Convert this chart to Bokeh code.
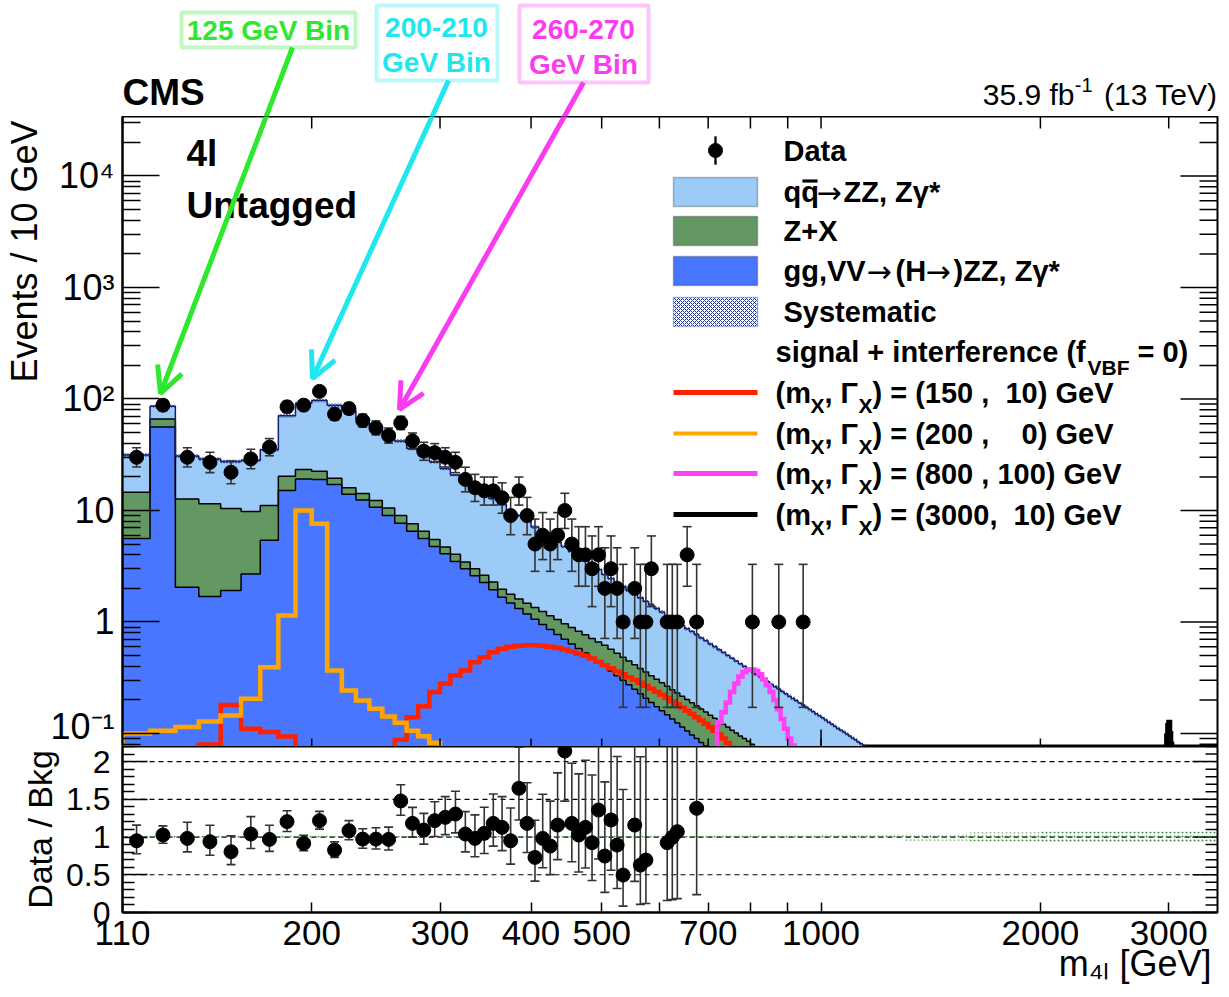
import math
from bokeh.plotting import figure
from bokeh.layouts import column
from bokeh.models import (Range1d, FixedTicker, CustomJSTickFormatter,
                          Label, BoxAnnotation, Arrow, OpenHead, Span)
from bokeh.embed import file_html
from bokeh.resources import INLINE

# ------------------------------------------------------------------ data
BIN_W = 10
bin_low = list(range(110, 1160, 10))          # lower edges of the 10 GeV bins (110 ... 1150)

# cumulative stack tops
stack_total = [31.5, 86, 30.8, 29, 27.5, 28, 35, 70.6, 91, 97,
               88, 78, 67, 57, 49, 42, 36, 31.5, 27.3, 23.8,
               20.8, 18.4, 16.3, 14.4, 12.8, 11.3, 9.9, 9.0, 8.1, 7.1,
               6.35, 5.75, 5.2, 4.75, 4.3, 3.92, 3.57, 3.25, 2.95, 2.67,
               2.45, 2.26, 2.08, 1.92, 1.78, 1.65, 1.53, 1.42, 1.32, 1.23,
               1.14, 1.07, 1.0, 0.93, 0.87, 0.82, 0.77, 0.72, 0.68, 0.635,
               0.6, 0.563, 0.531, 0.501, 0.473, 0.447, 0.423, 0.4, 0.379, 0.359,
               0.34, 0.323, 0.307, 0.291, 0.277, 0.263, 0.25, 0.238, 0.227, 0.216,
               0.206, 0.197, 0.188, 0.18, 0.172, 0.164, 0.157, 0.15, 0.144, 0.138,
               0.132, 0.126, 0.121, 0.116, 0.111, 0.107, 0.103, 0.099, 0.095, 0.091,
               0.088, 0.084, 0.081, 0.078, 0.075]
stack_zx_gg = [14.6, 66, 12.7, 11.5, 10.4, 9.8, 11.1, 20.3, 23.3, 22.5,
               19.5, 16.0, 14.2, 12.3, 10.5, 9.0, 7.6, 6.5, 5.5, 4.7,
               4.05, 3.45, 3.0, 2.63, 2.28, 1.97, 1.77, 1.61, 1.47, 1.35,
               1.24, 1.14, 1.05, 0.966, 0.893, 0.827, 0.767, 0.712, 0.662, 0.617,
               0.568, 0.523, 0.483, 0.446, 0.413, 0.383, 0.355, 0.329, 0.306, 0.285,
               0.265, 0.247, 0.231, 0.216, 0.202, 0.189, 0.177, 0.166, 0.156, 0.146,
               0.137, 0.129, 0.121, 0.114, 0.107, 0.101, 0.095, 0.09, 0.085, 0.08,
               0.076, 0.072, 0.068, 0.064, 0.061, 0.058, 0.055, 0.052, 0.049, 0.047,
               0.044, 0.042, 0.04, 0.038, 0.036, 0.034, 0.033, 0.031, 0.03, 0.028,
               0.027, 0.026, 0.024, 0.023, 0.022, 0.021, 0.02, 0.019, 0.018, 0.017,
               0.016, 0.016, 0.015, 0.014, 0.014]
stack_gg = [5.6, 56, 2.05, 1.69, 1.92, 2.7, 5.4, 15.1, 19.2, 19.0,
            17.1, 14.0, 12.4, 10.7, 9.0, 7.7, 6.5, 5.6, 4.75, 4.1,
            3.48, 3.0, 2.6, 2.26, 1.95, 1.67, 1.48, 1.32, 1.18, 1.057,
            0.95, 0.855, 0.772, 0.699, 0.634, 0.577, 0.526, 0.48, 0.439, 0.402,
            0.364, 0.33, 0.3, 0.273, 0.249, 0.227, 0.207, 0.19, 0.174, 0.16,
            0.147, 0.135, 0.124, 0.114, 0.105, 0.097, 0.09, 0.083, 0.077, 0.0715,
            0.066, 0.061, 0.056, 0.052, 0.048, 0.044, 0.041, 0.038, 0.035, 0.032,
            0.03, 0.028, 0.026, 0.024, 0.022, 0.02, 0.019, 0.018, 0.016, 0.015,
            0.014, 0.013, 0.012, 0.011, 0.011, 0.01, 0.0095, 0.009, 0.0085, 0.008,
            0.0075, 0.007, 0.0066, 0.0062, 0.0058, 0.0055, 0.0052, 0.0049, 0.0046, 0.0044,
            0.0042, 0.004, 0.0038, 0.0036, 0.0034]

# signal + interference curves (0 = not positive)
sig150_low = list(range(140, 760, 10))
sig150 = [0.0797, 0.18, 0.11, 0.103, 0.094, 0, 0, 0, 0, 0, 0, 0,
          0.088, 0.14, 0.175, 0.235, 0.279, 0.331, 0.367, 0.436, 0.483, 0.535,
          0.574, 0.6, 0.612, 0.618, 0.618, 0.612, 0.6, 0.585, 0.565, 0.543,
          0.52, 0.497, 0.47, 0.44, 0.41, 0.385, 0.36, 0.34, 0.32, 0.302,
          0.285, 0.268, 0.252, 0.237, 0.222, 0.208, 0.195, 0.183, 0.171, 0.16,
          0.15, 0.14, 0.131, 0.122, 0.114, 0.106, 0.098, 0.09, 0.082, 0.074]
sig200_low = list(range(110, 320, 10))
sig200 = [0.1, 0.106, 0.114, 0.128, 0.145, 0.205, 0.393, 1.144, 10.0, 7.6,
          0.368, 0.243, 0.198, 0.167, 0.142, 0.125, 0.106, 0.0946, 0.0825, 0.07, 0.06]
sig800_low = list(range(720, 930, 10))
sig800 = [0.126, 0.155, 0.19, 0.235, 0.28, 0.325, 0.355, 0.372, 0.375, 0.365,
          0.34, 0.305, 0.27, 0.235, 0.2, 0.165, 0.135, 0.11, 0.09, 0.078, 0.06]
sig3000_low = list(range(2960, 3040, 10))
sig3000 = [0.06, 0.075, 0.095, 0.118, 0.126, 0.1, 0.08, 0.06]

# observed events (bin centres)
data_mass = [115, 125, 135, 145, 155, 165, 175, 185, 195, 205,
             215, 225, 235, 245, 255, 265, 275, 285, 295, 305,
             315, 325, 335, 345, 355, 365, 375, 385, 395, 405,
             415, 425, 435, 445, 455, 465, 475, 485, 495, 505,
             515, 525, 535, 555, 565, 575, 585, 615, 625, 635,
             655, 675, 805, 875, 945]
data_count = [30, 88, 30, 27, 22, 29, 37, 85, 88, 117,
              73, 82, 64, 55, 47, 61, 42, 34, 33, 30,
              27, 19, 16, 15, 15, 13, 9, 15, 9, 5,
              6, 5, 6, 10, 5, 4, 4, 3, 4, 2,
              3, 2, 1, 2, 1, 1, 3, 1, 1, 1,
              4, 1, 1, 1, 1]

# Data / Bkg values visible in the lower panel
ratio_mass = [115, 125, 135, 145, 155, 165, 175, 185, 195, 205,
              215, 225, 235, 245, 255, 265, 275, 285, 295, 305,
              315, 325, 335, 345, 355, 365, 375, 385, 395, 405,
              415, 425, 435, 445, 455, 465, 475, 485, 495, 505,
              515, 525, 535, 555, 565, 575, 615, 625, 635, 675]
ratio_value = [0.951, 1.027, 0.982, 0.938, 0.805, 1.04, 0.969, 1.204, 0.916, 1.217,
               0.827, 1.084, 0.973, 0.973, 0.969, 1.478, 1.181, 1.093, 1.217, 1.261,
               1.305, 1.04, 0.982, 1.049, 1.181, 1.128, 0.951, 1.646, 1.181, 0.730,
               0.982, 0.881, 1.159, 2.14, 1.181, 1.027, 1.128, 0.925, 1.358, 0.748,
               1.226, 0.894, 0.496, 1.159, 0.628, 0.695, 0.925, 0.996, 1.071, 1.381]
ratio_sys_edges = [110, 700, 1000, 1300, 1600, 2000, 3500]
ratio_sys_half = [0.015, 0.02, 0.03, 0.045, 0.06, 0.075]

x_tick_values = [110, 200, 300, 400, 500, 700, 1000, 2000, 3000]
x_minor_values = [600, 800, 900]
y_major = [0.1, 1, 10, 100, 1000, 10000]
r_major = [0, 0.5, 1, 1.5, 2]

# ------------------------------------------------------------------ geometry / style
XMIN, XMAX = 110, 3500
YMIN, YMAX = 0.0764, 34170
RMIN, RMAX = 0.0, 2.2
FL, FW, FR = 122, 1095, 10  # frame left / width / right border in page px
MT, MH = 116, 630           # main frame top / height
RT, RH = 746, 166           # ratio frame top / height
FONT = "Liberation Sans"
C_QQ, C_ZX, C_GG = "#9ccbf8", "#639863", "#4876ff"
C_RED, C_ORA, C_MAG = "#ff2000", "#ffa500", "#ff40f5"
C_GRN_A, C_CYA_A, C_MAG_A = "#2ee82e", "#1ee8ee", "#fa3cf0"
FLOOR = 1e-4
NBSP = "\u00a0"


def px2x(px):
    return 10 ** (math.log10(XMIN) + (px - FL) / FW * math.log10(XMAX / XMIN))


def py2y(py):
    return 10 ** (math.log10(YMIN) + (MT + MH - py) / MH * math.log10(YMAX / YMIN))


def ident(v):
    return v


def garwood(n):
    lo = 0.0
    if n > 0:
        k = 2 * n
        lo = 0.5 * k * (1 - 2 / (9 * k) - math.sqrt(2 / (9 * k))) ** 3
    k = 2 * n + 2
    hi = 0.5 * k * (1 - 2 / (9 * k) + math.sqrt(2 / (9 * k))) ** 3
    return lo, hi


def hist_line(lows, vals):
    xs = [lows[0]] + list(lows) + [lows[-1] + BIN_W]
    ys = [FLOOR] + [v if v > 0 else FLOOR for v in vals] + [FLOOR]
    return xs, ys


def area_xy(lows, vals):
    return list(lows) + [lows[-1] + BIN_W], list(vals) + [vals[-1]]


def add_text(fig, xc, yc, px, py, text, size, color="black", bold=True, align="left", font=FONT):
    fig.add_layout(Label(x=xc(px), y=yc(py), text=text, text_font=font,
                         text_font_size=f"{size}px",
                         text_font_style="bold" if bold else "normal",
                         text_color=color, text_align=align, text_baseline="middle"))


def add_box(fig, xc, yc, l, r, t, b, **kw):
    fig.add_layout(BoxAnnotation(left=xc(l), right=xc(r), top=yc(t), bottom=yc(b), **kw))


def style_axis(ax, tick_in, minor_in, font_size, standoff):
    ax.major_tick_in = tick_in
    ax.major_tick_out = 0
    ax.minor_tick_in = minor_in
    ax.minor_tick_out = 0
    ax.major_tick_line_width = 1.5
    ax.minor_tick_line_width = 1.5
    ax.axis_line_width = 2
    ax.major_label_text_font = FONT
    ax.major_label_text_font_size = font_size
    ax.major_label_standoff = standoff
    ax.major_label_text_color = "black"


def set_title(ax, text, size, standoff, lead):
    # ROOT puts the title at the end of the axis: leading spaces push the centred title there
    ax.axis_label = NBSP * lead + text
    ax.axis_label_text_font = FONT
    ax.axis_label_text_font_size = f"{size}px"
    ax.axis_label_text_font_style = "normal"
    ax.axis_label_text_color = "black"
    ax.axis_label_standoff = standoff


def edge_ticks(fig, xs, ys, length, vertical):
    # inward tick marks on a frame edge: a dash centred on the edge, the outer half is clipped
    fig.scatter(x=xs, y=ys, marker="dash", size=2 * length, angle=math.pi / 2 if vertical else 0.0,
                line_color="black", line_width=1.5)


ARROWS = [((292, 47, 160, 393), C_GRN_A), ((448, 80, 312, 378), C_CYA_A), ((583, 82, 399, 409), C_MAG_A)]

# ------------------------------------------------------------------ header strip (above the frame)
h = figure(x_range=Range1d(FL, FL + FW), y_range=Range1d(MT, 0), frame_width=FW, frame_height=MT,
           min_border_left=FL, min_border_right=FR, min_border_top=0, min_border_bottom=0,
           toolbar_location=None, output_backend="svg", title=None)
h.axis.visible = False
h.grid.visible = False
h.outline_line_color = None
add_text(h, ident, ident, 122, 92, "CMS", 37)
add_text(h, ident, ident, 1217, 94, "(13 TeV)", 30, bold=False, align="right")
add_text(h, ident, ident, 1092, 84, "-1", 20, bold=False, align="right")
add_text(h, ident, ident, 1074, 94, "35.9 fb", 30, bold=False, align="right")
add_box(h, ident, ident, 181, 355, 12, 47, fill_alpha=0, line_color=C_GRN_A, line_width=4)
add_text(h, ident, ident, 268, 30, "125 GeV Bin", 28, color=C_GRN_A, align="center")
add_box(h, ident, ident, 376, 497, 5, 80, fill_alpha=0, line_color=C_CYA_A, line_width=4)
add_text(h, ident, ident, 436, 27, "200-210", 28, color=C_CYA_A, align="center")
add_text(h, ident, ident, 436, 62, "GeV Bin", 28, color=C_CYA_A, align="center")
add_box(h, ident, ident, 519, 648, 5, 82, fill_alpha=0, line_color=C_MAG_A, line_width=4)
add_text(h, ident, ident, 583, 29, "260-270", 28, color=C_MAG_A, align="center")
add_text(h, ident, ident, 583, 64, "GeV Bin", 28, color=C_MAG_A, align="center")
for (x0, y0, x1, y1), col in ARROWS:
    h.add_layout(Arrow(end=None, x_start=x0, y_start=y0, x_end=x1, y_end=y1,
                       line_color=col, line_width=5))

# ------------------------------------------------------------------ main panel
p = figure(x_axis_type="log", y_axis_type="log",
           x_range=Range1d(XMIN, XMAX), y_range=Range1d(YMIN, YMAX),
           frame_width=FW, frame_height=MH,
           min_border_left=FL, min_border_right=FR, min_border_top=0, min_border_bottom=0,
           toolbar_location=None, output_backend="svg", title=None)
p.xgrid.visible = False
p.ygrid.visible = False
p.xaxis.visible = False
p.outline_line_color = "black"
p.outline_line_width = 2

y_minor = [m * 10 ** e for e in range(-2, 5) for m in range(2, 10) if YMIN <= m * 10 ** e <= YMAX]
p.yaxis.ticker = FixedTicker(ticks=y_major, minor_ticks=y_minor)
style_axis(p.yaxis[0], 37, 18, "36px", 8)
p.yaxis.formatter = CustomJSTickFormatter(code="""
const e = Math.round(Math.log10(tick));
const m = {"-1": "10\u207b\u00b9", "0": "1", "1": "10", "2": "10\u00b2", "3": "10\u00b3", "4": "10\u2074"};
return m[String(e)] || "";
""")
set_title(p.yaxis[0], "Events / 10 GeV", 36, 2, 36)

# stacked histograms
ex, y_tot = area_xy(bin_low, stack_total)
_, y_zx = area_xy(bin_low, stack_zx_gg)
_, y_gg = area_xy(bin_low, stack_gg)
p.varea_step(x=ex, y1=y_zx, y2=y_tot, step_mode="after", fill_color=C_QQ)
p.varea_step(x=ex, y1=y_gg, y2=y_zx, step_mode="after", fill_color=C_ZX)
p.varea_step(x=ex, y1=[FLOOR] * len(ex), y2=y_gg, step_mode="after", fill_color=C_GG)
p.varea_step(x=ex, y1=[v * 0.965 for v in y_tot], y2=[v * 1.035 for v in y_tot], step_mode="after",
             fill_alpha=0, hatch_pattern="x", hatch_color="#1b2f9a", hatch_scale=3, hatch_weight=0.7)
for vals, col, w in ((stack_gg, "black", 1.5), (stack_zx_gg, "black", 1.5), (stack_total, "#141e6e", 1.5)):
    hx, hy = hist_line(bin_low, vals)
    p.step(hx, hy, mode="after", line_color=col, line_width=w)

# signal curves
for lows, vals, col, w in ((sig150_low, sig150, C_RED, 4.5), (sig200_low, sig200, C_ORA, 4.5),
                           (sig800_low, sig800, C_MAG, 4.5), (sig3000_low, sig3000, "black", 5)):
    hx, hy = hist_line(lows, vals)
    p.step(hx, hy, mode="after", line_color=col, line_width=w, line_join="miter")

# data
err = [garwood(n) for n in data_count]
d_lo = [e[0] for e in err]
d_hi = [e[1] for e in err]
p.segment(x0=data_mass, y0=d_lo, x1=data_mass, y1=d_hi, line_color="#333333", line_width=1.6)
p.scatter(x=data_mass + data_mass, y=d_lo + d_hi, marker="dash", size=9, line_color="#333333", line_width=1.6)
p.scatter(x=data_mass, y=data_count, size=14, fill_color="black", line_color="black")

# inward ticks on the other frame edges
x_all = x_tick_values + x_minor_values
edge_ticks(p, x_all, [YMAX] * len(x_all), 12, True)
edge_ticks(p, x_all, [YMIN] * len(x_all), 8, True)
edge_ticks(p, [1000], [YMIN], 17, True)
edge_ticks(p, [XMAX] * len(y_major), y_major, 37, False)
edge_ticks(p, [XMAX] * len(y_minor), y_minor, 18, False)

# texts / arrows inside the frame
add_text(p, px2x, py2y, 186, 153, "4l", 37)
add_text(p, px2x, py2y, 186, 205, "Untagged", 37)
for (x0, y0, x1, y1), col in ARROWS:
    p.add_layout(Arrow(end=OpenHead(size=26, line_width=5, line_color=col),
                       x_start=px2x(x0), y_start=py2y(y0), x_end=px2x(x1), y_end=py2y(y1),
                       line_color=col, line_width=5))

# legend
add_box(p, px2x, py2y, 714, 716, 136, 164, fill_color="black", fill_alpha=1, line_color="black", line_width=1)
p.scatter(x=[px2x(715)], y=[py2y(150)], size=14, fill_color="black", line_color="black")
add_text(p, px2x, py2y, 783, 150, "Data", 29)
add_box(p, px2x, py2y, 673, 757, 177, 206, fill_color=C_QQ, fill_alpha=1, line_color="#222222", line_width=1.5)
add_text(p, px2x, py2y, 783, 191, "qq", 29)
add_box(p, px2x, py2y, 802, 817, 179, 182, fill_color="black", fill_alpha=1, line_color="black", line_width=0.5)
add_text(p, px2x, py2y, 816, 192, "\u2192", 30, bold=False, font="DejaVu Sans")
add_text(p, px2x, py2y, 843, 191, "ZZ, Z\u03b3*", 29)
add_box(p, px2x, py2y, 673, 757, 216, 245, fill_color=C_ZX, fill_alpha=1, line_color="#222222", line_width=1.5)
add_text(p, px2x, py2y, 783, 230, "Z+X", 29)
add_box(p, px2x, py2y, 673, 757, 256, 285, fill_color=C_GG, fill_alpha=1, line_color="#222222", line_width=1.5)
add_text(p, px2x, py2y, 783, 270, "gg,VV", 29)
add_text(p, px2x, py2y, 866, 271, "\u2192", 30, bold=False, font="DejaVu Sans")
add_text(p, px2x, py2y, 895, 270, "(H", 29)
add_text(p, px2x, py2y, 925, 271, "\u2192", 30, bold=False, font="DejaVu Sans")
add_text(p, px2x, py2y, 953, 270, ")ZZ, Z\u03b3*", 29)
add_box(p, px2x, py2y, 673, 757, 297, 326, fill_color="white", fill_alpha=1, line_color="#1b2f9a", line_width=1.5,
        hatch_pattern="x", hatch_color="#1b2f9a", hatch_scale=4, hatch_weight=1)
add_text(p, px2x, py2y, 783, 311, "Systematic", 29)
add_text(p, px2x, py2y, 775, 351, "signal + interference (f", 29)
add_text(p, px2x, py2y, 1087, 367, "VBF", 21)
add_text(p, px2x, py2y, 1137, 351, "= 0)", 29)
legend_rows = [(392, C_RED, 5, "(150 ,\u00a0 10) GeV"), (433, C_ORA, 4, "(200 ,\u00a0\u2007\u00a00) GeV"),
               (473, C_MAG, 5, "(800 , 100) GeV"), (514, "black", 5, "(3000,\u00a0 10) GeV")]
for yc, col, lw, tail in legend_rows:
    add_box(p, px2x, py2y, 673, 757, yc - lw / 2, yc + lw / 2, fill_color=col, fill_alpha=1, line_alpha=0)
    add_text(p, px2x, py2y, 775, yc, "(m", 29)
    add_text(p, px2x, py2y, 810, yc + 13, "X", 21)
    add_text(p, px2x, py2y, 824, yc, ", \u0393", 29)
    add_text(p, px2x, py2y, 858, yc + 13, "X", 21)
    add_text(p, px2x, py2y, 872, yc, ") = " + tail, 29)

# ------------------------------------------------------------------ ratio panel
r = figure(x_axis_type="log", x_range=p.x_range, y_range=Range1d(RMIN, RMAX),
           frame_width=FW, frame_height=RH,
           min_border_left=FL, min_border_right=FR, min_border_top=0, min_border_bottom=85,
           toolbar_location=None, output_backend="svg", title=None)
r.xgrid.visible = False
r.ygrid.visible = False
r.outline_line_color = "black"
r.outline_line_width = 2
r.xaxis.ticker = FixedTicker(ticks=x_tick_values, minor_ticks=x_minor_values)
style_axis(r.xaxis[0], 10, 10, "35px", 8)
r.xaxis.formatter = CustomJSTickFormatter(code="return tick.toFixed(0);")
set_title(r.xaxis[0], "m\u2084\u2097 [GeV]", 36, -5, 93)
r_minor = [k / 10 for k in range(0, 23) if k % 5 != 0]
r.yaxis.ticker = FixedTicker(ticks=r_major, minor_ticks=r_minor)
style_axis(r.yaxis[0], 25, 12, "32px", 12)
r.yaxis.formatter = CustomJSTickFormatter(code="return String(tick);")
set_title(r.yaxis[0], "Data / Bkg", 34, 4, 0)
edge_ticks(r, [XMAX] * len(r_major), r_major, 25, False)
edge_ticks(r, [XMAX] * len(r_minor), r_minor, 12, False)

for lvl in (0.5, 1.0, 1.5, 2.0):
    r.add_layout(Span(location=lvl, dimension="width", line_color="black", line_width=1.2,
                      line_dash="5 4", level="underlay"))
sx = ratio_sys_edges
sy1 = [1 - hw for hw in ratio_sys_half] + [1 - ratio_sys_half[-1]]
sy2 = [1 + hw for hw in ratio_sys_half] + [1 + ratio_sys_half[-1]]
r.varea_step(x=sx, y1=sy1, y2=sy2, step_mode="after", fill_alpha=0,
             hatch_pattern=".", hatch_color="#3c8c3c", hatch_scale=4, hatch_weight=1)

count_of = dict(zip(data_mass, data_count))
r_lo, r_hi = [], []
for m, v in zip(ratio_mass, ratio_value):
    n = count_of[m]
    lo, hi = garwood(n)
    r_lo.append(v * lo / n)
    r_hi.append(v * hi / n)
r.segment(x0=ratio_mass, y0=r_lo, x1=ratio_mass, y1=r_hi, line_color="#333333", line_width=1.6)
r.scatter(x=ratio_mass + ratio_mass, y=r_lo + r_hi, marker="dash", size=9, line_color="#333333", line_width=1.6)
r.scatter(x=ratio_mass, y=ratio_value, size=14, fill_color="black", line_color="black")

layout = column(h, p, r, spacing=0)
with open("out.html", "w", encoding="utf-8") as f:
    f.write(file_html(layout, INLINE))
